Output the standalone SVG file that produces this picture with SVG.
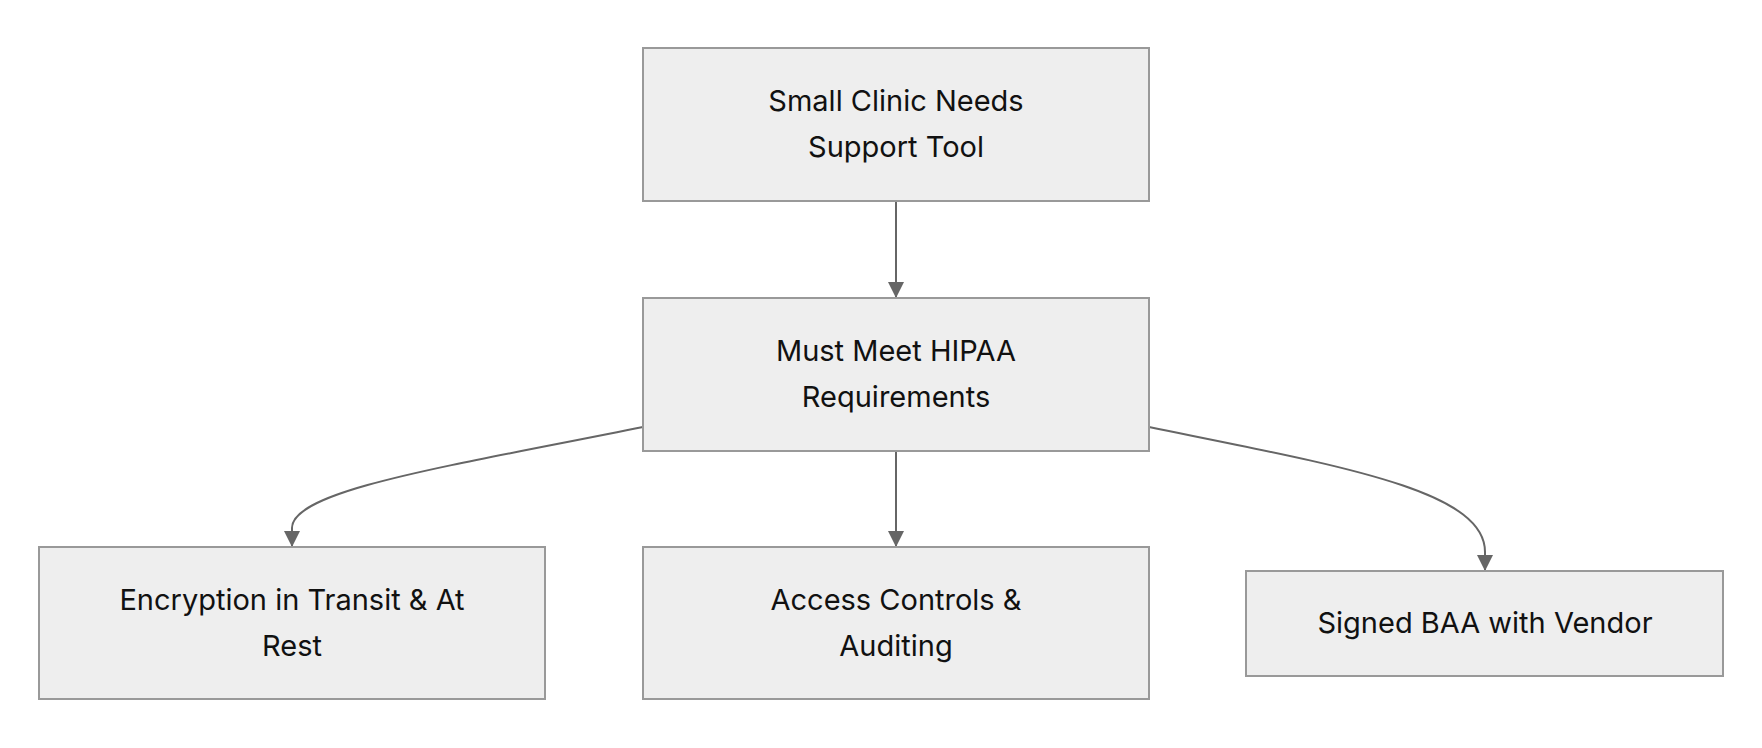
<svg xmlns="http://www.w3.org/2000/svg" width="1762" height="748" viewBox="0 0 1762 748">
<style>
.n{fill:#eeeeee;stroke:#999;stroke-width:2}
.t{font-family:Inter,"Liberation Sans",sans-serif;font-size:29px;fill:#111;text-anchor:middle}
.e{fill:none;stroke:#666;stroke-width:2}
</style>
<defs><marker id="a" markerWidth="10" markerHeight="10" refX="9" refY="5" orient="auto" markerUnits="userSpaceOnUse"><path d="M0,0L10,5L0,10z" fill="#666" transform="scale(1.6) translate(-4,-1.9)"/></marker>
<marker id="m" viewBox="0 0 10 10" markerWidth="16" markerHeight="16" refX="10" refY="5" orient="auto" markerUnits="userSpaceOnUse"><path d="M0,0L10,5L0,10z" fill="#666"/></marker></defs>
<rect width="1762" height="748" fill="#fff"/>
<g id="edges">
<path class="e" marker-end="url(#m)" d="M896,201V298"/>
<path class="e" marker-end="url(#m)" d="M896,451V547"/>
<path class="e" marker-end="url(#m)" d="M643,427C450,466 292,490 292,528V547"/>
<path class="e" marker-end="url(#m)" d="M1149,427C1340,466 1485,490 1485,552V571"/>
</g>
<g id="n1"><rect class="n" x="643" y="48" width="506" height="153"/><text class="t" x="896" y="111">Small Clinic Needs</text><text class="t" x="896" y="157">Support Tool</text></g>
<g id="n2"><rect class="n" x="643" y="298" width="506" height="153"/><text class="t" x="896" y="361">Must Meet HIPAA</text><text class="t" x="896" y="407">Requirements</text></g>
<g id="n3"><rect class="n" x="39" y="547" width="506" height="152"/><text class="t" x="292" y="610">Encryption in Transit &amp; At</text><text class="t" x="292" y="656">Rest</text></g>
<g id="n4"><rect class="n" x="643" y="547" width="506" height="152"/><text class="t" x="896" y="610">Access Controls &amp;</text><text class="t" x="896" y="656">Auditing</text></g>
<g id="n5"><rect class="n" x="1246" y="571" width="477" height="105"/><text class="t" x="1485" y="633">Signed BAA with Vendor</text></g>
</svg>
